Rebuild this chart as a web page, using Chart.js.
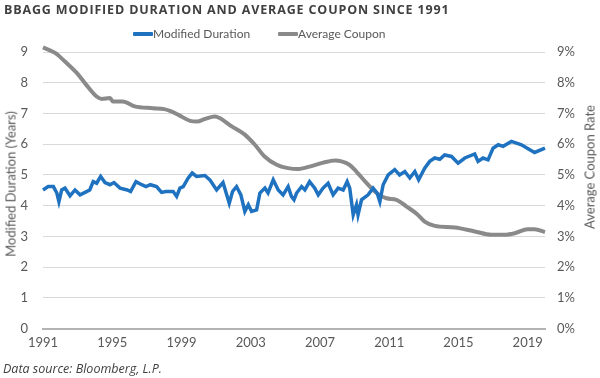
<!DOCTYPE html>
<html>
<head>
<meta charset="utf-8">
<script src="https://cdn.jsdelivr.net/npm/chart.js@4.4.1/dist/chart.umd.min.js"></script>
<style>
  html, body { margin: 0; padding: 0; background: #fff; }
  #wrap { position: relative; width: 600px; height: 378px; overflow: hidden; }
  canvas { position: absolute; left: 0; top: 0; }
  .txt { position: absolute; white-space: nowrap; line-height: 1; }
  #title { left: 4px; top: 4px; font-family: "Open Sans", sans-serif; font-weight: 700; font-size: 12.5px; letter-spacing: 0.85px; color: #404040; }
  #source { left: 3px; top: 363px; font-family: "Open Sans", sans-serif; font-style: italic; font-size: 12.5px; color: #404040; }
  .leg { top: 28px; font-family: Lato, sans-serif; font-size: 12px; color: #595959; }
  .sw { position: absolute; top: 32px; height: 4px; width: 20px; border-radius: 1px; }
  .axt { font-family: Lato, sans-serif; font-size: 13px; color: #595959; transform-origin: center center; }
</style>
</head>
<body>
<div id="wrap">
  <canvas id="c" width="600" height="378"></canvas>
  <div class="txt" id="title">BBAGG MODIFIED DURATION AND AVERAGE COUPON SINCE 1991</div>
  <div class="sw" id="sw1" style="left:133px;"></div>
  <div class="txt leg" style="left:153px;">Modified Duration</div>
  <div class="sw" id="sw2" style="left:278px;"></div>
  <div class="txt leg" style="left:298px;">Average Coupon</div>
  <div class="txt axt" id="ytitle" style="left:11px; top:184px; transform: translate(-50%,-50%) rotate(-90deg);">Modified Duration (Years)</div>
  <div class="txt axt" id="y1title" style="left:590px; top:167px; transform: translate(-50%,-50%) rotate(-90deg);">Average Coupon Rate</div>
  <div class="txt" id="source">Data source: Bloomberg, L.P.</div>
</div>
<script>
const tickYears = [1991, 1995, 1999, 2003, 2007, 2011, 2015, 2019];

const durYears = [1991.0,1991.3,1991.6,1991.8,1991.92,1992.08,1992.27,1992.56,1992.85,1993.14,1993.43,1993.7,1993.9,1994.1,1994.33,1994.58,1994.87,1995.1,1995.45,1995.87,1996.06,1996.37,1996.7,1996.95,1997.2,1997.56,1997.85,1998.1,1998.52,1998.72,1998.91,1999.1,1999.39,1999.62,1999.87,2000.35,2000.64,2001.03,2001.4,2001.76,2001.95,2002.18,2002.43,2002.66,2002.86,2003.05,2003.34,2003.53,2003.82,2004.0,2004.3,2004.59,2004.87,2005.16,2005.35,2005.5,2005.65,2005.94,2006.13,2006.4,2006.7,2006.9,2007.18,2007.47,2007.76,2008.05,2008.34,2008.57,2008.72,2008.92,2009.11,2009.2,2009.4,2009.78,2010.07,2010.3,2010.46,2010.65,2010.94,2011.32,2011.6,2011.9,2012.19,2012.48,2012.7,2013.05,2013.34,2013.63,2013.92,2014.2,2014.6,2014.98,2015.37,2015.94,2016.13,2016.42,2016.71,2017.0,2017.3,2017.58,2018.06,2018.64,2019.12,2019.4,2020.0];
const durValues = [4.51,4.62,4.62,4.41,4.13,4.51,4.57,4.32,4.51,4.35,4.43,4.51,4.78,4.73,4.95,4.75,4.68,4.75,4.57,4.51,4.46,4.78,4.68,4.62,4.68,4.62,4.43,4.46,4.46,4.30,4.57,4.62,4.90,5.06,4.95,4.98,4.84,4.51,4.75,4.08,4.46,4.62,4.35,3.81,4.03,3.81,3.86,4.41,4.57,4.41,4.84,4.51,4.35,4.62,4.30,4.19,4.41,4.62,4.51,4.78,4.57,4.35,4.57,4.73,4.35,4.57,4.51,4.78,4.57,3.70,4.03,3.70,4.19,4.35,4.57,4.41,4.13,4.68,5.00,5.17,5.00,5.11,4.90,5.11,4.84,5.22,5.44,5.55,5.51,5.65,5.60,5.38,5.55,5.68,5.44,5.55,5.49,5.87,5.98,5.93,6.09,5.98,5.82,5.73,5.87];

const cpnYears = [1991.0,1991.7,1992.27,1992.95,1993.5,1994.1,1994.4,1994.87,1995.04,1995.6,1996.3,1997.35,1998.0,1998.33,1998.8,1999.5,1999.9,2000.35,2000.93,2001.2,2001.9,2002.66,2003.24,2003.8,2004.5,2005.16,2005.7,2006.4,2007.2,2007.86,2008.7,2009.1,2009.7,2010.27,2010.84,2011.42,2012.0,2012.6,2013.05,2013.63,2014.79,2015.94,2016.9,2017.67,2018.25,2019.0,2019.4,2020.0];
const cpnValues = [9.15,8.97,8.69,8.32,7.93,7.55,7.47,7.50,7.39,7.39,7.23,7.17,7.14,7.08,6.96,6.76,6.74,6.82,6.90,6.85,6.58,6.31,5.98,5.60,5.33,5.22,5.19,5.27,5.40,5.47,5.33,5.11,4.73,4.41,4.24,4.19,3.97,3.73,3.48,3.34,3.29,3.16,3.05,3.05,3.10,3.23,3.23,3.14];

const BLUE = '#1f72c0';
const GRAY = '#8a8a8a';
const FONT = 'Lato, sans-serif';
const TXT = '#595959';

document.getElementById('sw1').style.background = BLUE;
document.getElementById('sw2').style.background = GRAY;

new Chart(document.getElementById('c'), {
  type: 'line',
  data: {
    datasets: [
      {
        label: 'Modified Duration',
        data: durYears.map((x, i) => ({ x: x, y: durValues[i] })),
        borderColor: BLUE,
        backgroundColor: BLUE,
        borderWidth: 3.5,
        pointRadius: 0,
        tension: 0,
        yAxisID: 'y',
        clip: false
      },
      {
        label: 'Average Coupon',
        data: cpnYears.map((x, i) => ({ x: x, y: cpnValues[i] })),
        borderColor: GRAY,
        backgroundColor: GRAY,
        borderWidth: 4,
        pointRadius: 0,
        cubicInterpolationMode: 'monotone',
        yAxisID: 'y1',
        clip: false
      }
    ]
  },
  options: {
    responsive: false,
    animation: false,
    layout: { padding: { top: 52, bottom: 19.5, left: 0, right: 0 } },
    plugins: {
      legend: { display: false },
      tooltip: { enabled: false }
    },
    scales: {
      x: {
        type: 'linear',
        min: 1991,
        max: 2020,
        afterBuildTicks: s => { s.ticks = tickYears.map(v => ({ value: v })); },
        afterFit: s => { s.height = 30; },
        grid: { display: false, drawTicks: false },
        border: { display: true, color: '#b3b3b3', width: 2 },
        ticks: { color: TXT, font: { family: FONT, size: 13 }, padding: 7, maxRotation: 0, autoSkip: false, callback: v => String(v) }
      },
      y: {
        position: 'left',
        min: 0,
        max: 9,
        afterFit: s => { s.width = 43; },
        grid: { color: '#d9d9d9', lineWidth: 1, drawTicks: false },
        border: { display: false },
        ticks: { stepSize: 1, color: TXT, padding: 15, font: { family: FONT, size: 13 } }
      },
      y1: {
        position: 'right',
        min: 0,
        max: 9,
        afterFit: s => { s.width = 55; },
        grid: { display: false, drawTicks: false },
        border: { display: false },
        ticks: { stepSize: 1, color: TXT, padding: 12, font: { family: FONT, size: 13 }, callback: v => v + '%' }
      }
    }
  }
});
</script>
</body>
</html>
